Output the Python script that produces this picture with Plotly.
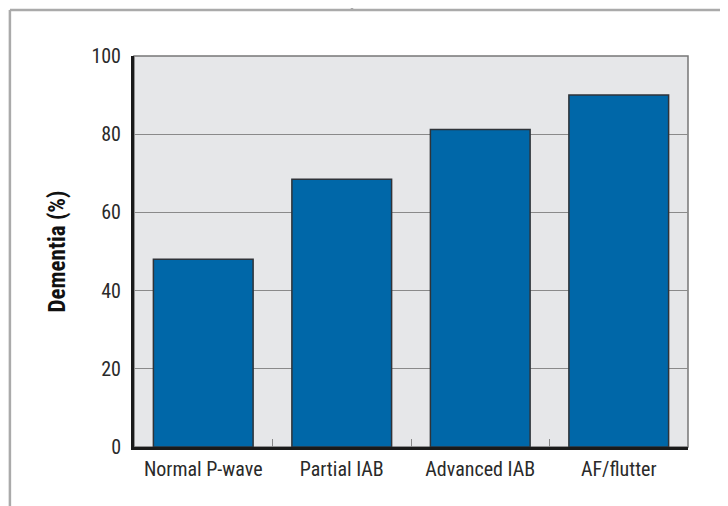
import plotly.graph_objects as go

categories = ["Normal P-wave", "Partial IAB", "Advanced IAB", "AF/flutter"]
dementia_pct = [48, 68.5, 81.2, 90]
y_ticks = [0, 20, 40, 60, 80, 100]

FONT = "Roboto Condensed, Arial Narrow, Roboto, sans-serif"

fig = go.Figure(go.Bar(
    x=categories, y=dementia_pct,
    marker=dict(color="#0067a8", line=dict(color="#2f3338", width=1.5)),
    width=0.72,
))

# figure sits at page offset (8, 8); plot area at page x 134-688, y 56-447
fig.update_layout(
    width=720, height=498,
    margin=dict(l=126, r=40, t=48, b=59),
    paper_bgcolor="white",
    plot_bgcolor="#e6e7e9",
    showlegend=False,
    font=dict(family=FONT, size=20, color="#2a2a2a"),
    shapes=[
        dict(type="rect", xref="paper", yref="paper", x0=0, x1=1, y0=0, y1=1,
             line=dict(color="#777", width=1.5), layer="below"),
        dict(type="line", xref="paper", yref="paper", x0=-0.224, x1=1.1, y0=1.1176, y1=1.1176,
             line=dict(color="#aaaaaa", width=2.5)),
        dict(type="line", xref="paper", yref="paper", x0=-0.224, x1=-0.224, y0=1.1176, y1=-0.2,
             line=dict(color="#aaaaaa", width=2.5)),
        dict(type="line", xref="paper", yref="paper", x0=0.3935, x1=0.3935, y0=1.1176, y1=1.2,
             line=dict(color="#aaaaaa", width=2.5)),
    ],
)

fig.update_xaxes(
    showgrid=False,
    showline=True, linecolor="#1a1a1a", linewidth=3,
    ticks="inside", tickson="boundaries", ticklen=8, tickcolor="#888", tickwidth=1,
    ticklabelstandoff=2,
    tickfont=dict(family=FONT, size=20, color="#2a2a2a"),
    range=[-0.5, 3.5],
)
fig.update_yaxes(
    range=[0, 100], tickvals=y_ticks,
    showgrid=True, gridcolor="#8a8a8a", gridwidth=1,
    showline=True, linecolor="#1a1a1a", linewidth=3,
    zeroline=False,
    ticks="", ticklabelstandoff=6,
    tickfont=dict(family=FONT, size=20, color="#2a2a2a"),
    title=dict(text="<b>Dementia (%)</b>", font=dict(family=FONT, size=23, color="#111"), standoff=20),
)

fig.write_html("out.html")
